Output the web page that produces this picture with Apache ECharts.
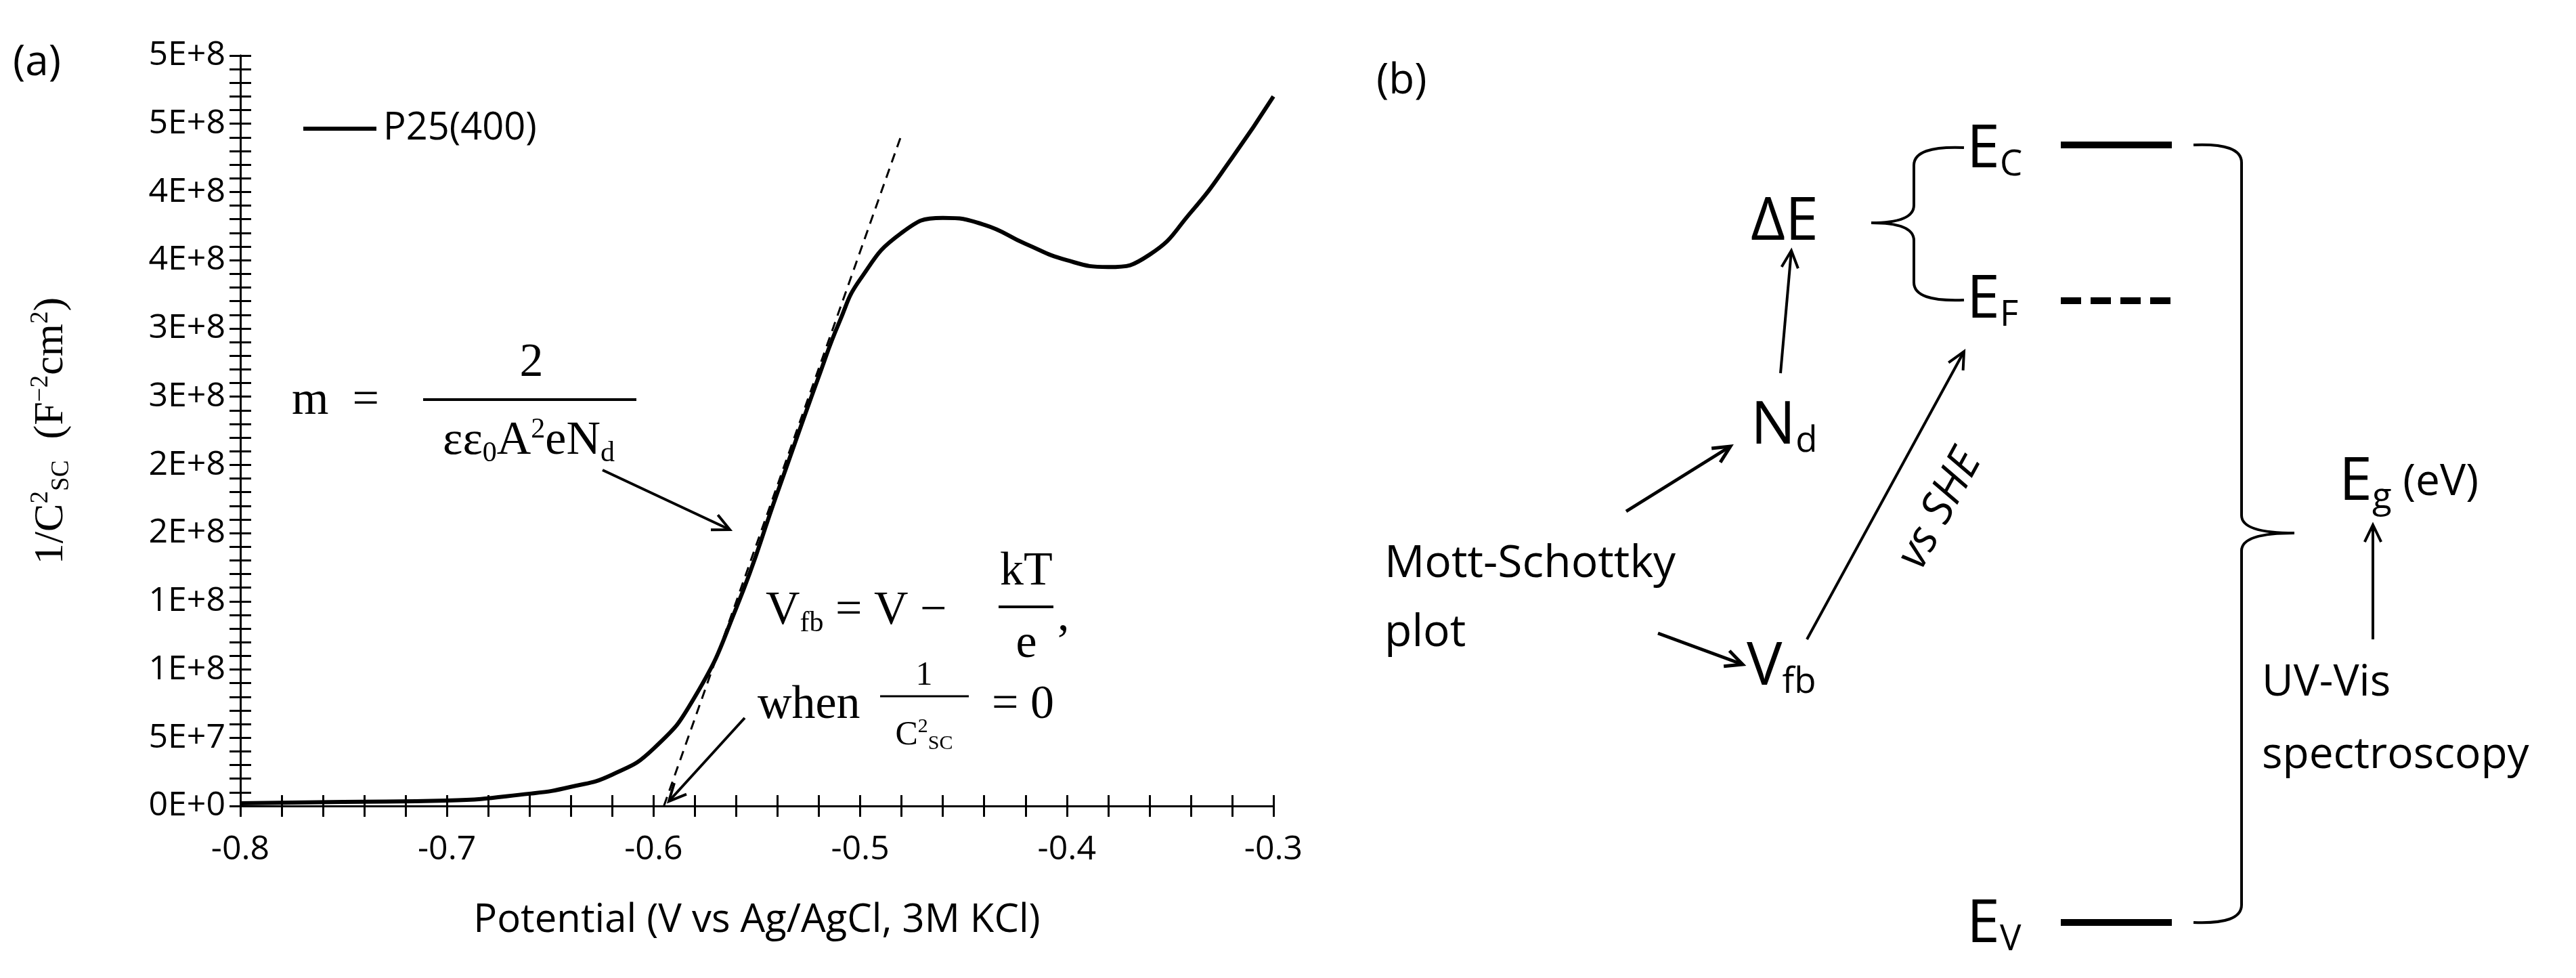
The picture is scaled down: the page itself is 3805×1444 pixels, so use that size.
<!DOCTYPE html>
<html><head><meta charset="utf-8">
<script src="https://cdn.jsdelivr.net/npm/echarts@6/dist/echarts.min.js"></script>
<style>html,body{margin:0;background:#fff}#c{width:3805px;height:1444px}</style>
</head><body><div id="c"></div>
<script>
// Mott-Schottky curve, P25(400)
const potential = [-0.8, -0.75, -0.7, -0.66, -0.64, -0.62, -0.6, -0.58, -0.56, -0.54, -0.52, -0.51, -0.5, -0.48, -0.46, -0.44, -0.42, -0.4, -0.38, -0.36, -0.34, -0.32, -0.3];
const invC2 = [2e6, 3e6, 4e6, 9e6, 1.4e7, 2.3e7, 4.2e7, 8.0e7, 1.45e8, 2.3e8, 3.15e8, 3.55e8, 3.86e8, 4.2e8, 4.31e8, 4.26e8, 4.12e8, 4.0e8, 3.95e8, 4.04e8, 4.35e8, 4.75e8, 5.2e8];
const tangentX = [-0.595, -0.48];
const tangentY = [0, 4.92e8];
const yTickLabels = ['0E+0', '5E+7', '1E+8', '1E+8', '2E+8', '2E+8', '3E+8', '3E+8', '4E+8', '4E+8', '5E+8', '5E+8'];
const seriesName = 'P25(400)';

const sans = 'Open Sans';
const serif = 'Liberation Serif';
const chart = echarts.init(document.getElementById('c'));

const xBase = {
  type: 'value', min: -0.8, max: -0.3, interval: 0.1,
  axisLine: {lineStyle: {color: '#000', width: 3}},
  splitLine: {show: false},
  minorSplitLine: {show: false}
};
const yBase = {
  type: 'value', min: 0, max: 5.5e8, interval: 5e7,
  axisLine: {lineStyle: {color: '#000', width: 3}},
  splitLine: {show: false}
};

function line(x1, y1, x2, y2, w, dash) {
  return {type: 'line', shape: {x1, y1, x2, y2}, style: {stroke: '#000', lineWidth: w || 3, lineDash: dash || null}};
}
function curve(x1, y1, cx, cy, x2, y2) {
  return {type: 'bezierCurve', shape: {x1, y1, x2, y2, cpx1: cx, cpy1: cy}, style: {stroke: '#000', lineWidth: 4, fill: null}};
}
function brace(x0, xs, xt, yTop, yMid, yBot) {
  return [
    curve(x0, yTop, xs, yTop - 3, xs, yTop + 26),
    line(xs, yTop + 26, xs, yMid - 26, 4),
    curve(xs, yMid - 26, xs, yMid, xt, yMid),
    curve(xt, yMid, xs, yMid, xs, yMid + 26),
    line(xs, yMid + 26, xs, yBot - 26, 4),
    curve(xs, yBot - 26, xs, yBot + 3, x0, yBot)
  ];
}
function arrow(x1, y1, x2, y2, w) {
  const a = Math.atan2(y2 - y1, x2 - x1), L = 28, s = 0.45;
  return [line(x1, y1, x2, y2, w || 4),
    {type: 'polyline', shape: {points: [[x2 - L * Math.cos(a - s), y2 - L * Math.sin(a - s)], [x2, y2], [x2 - L * Math.cos(a + s), y2 - L * Math.sin(a + s)]]},
     style: {stroke: '#000', lineWidth: w || 4, fill: null}}];
}
function txt(x, y, text, size, opts) {
  return {type: 'text', x, y, style: Object.assign({text, fontSize: size, fontFamily: sans, fill: '#000', verticalAlign: 'middle'}, opts || {})};
}
const subRich = (size, fam) => ({
  sub: {fontSize: size * 0.6, fontFamily: fam, verticalAlign: 'bottom', padding: [size * 0.5, 0, 0, 0]},
  sup: {fontSize: size * 0.6, fontFamily: fam, padding: [0, 0, size * 0.5, 0]}
});

const g = [];
// panel (a) texts
g.push(txt(19, 93, '(a)', 62));
g.push(line(448, 190, 556, 190, 6));
g.push(txt(566, 190, seriesName, 56));
g.push(txt(431, 593, 'm  =', 70, {fontFamily: serif}));
g.push(txt(785, 537, '2', 70, {fontFamily: serif, align: 'center'}));
g.push(line(625, 590, 940, 590, 4));
g.push(txt(781, 652, '{n|εε}{sub|0}{n|A}{sup|2}{n|eN}{sub|d}', 70, {align: 'center', rich: Object.assign({n: {fontSize: 70, fontFamily: serif}}, subRich(70, serif))}));
g.push(...arrow(890, 694, 1078, 782));
g.push(txt(1131, 903, '{n|V}{sub|fb}{n| = V − }', 70, {rich: Object.assign({n: {fontSize: 70, fontFamily: serif}}, subRich(70, serif))}));
g.push(txt(1516, 845, 'kT', 70, {fontFamily: serif, align: 'center'}));
g.push(line(1475, 896, 1556, 896, 4));
g.push(txt(1516, 952, 'e', 70, {fontFamily: serif, align: 'center'}));
g.push(txt(1562, 912, ',', 70, {fontFamily: serif}));
g.push(txt(1119, 1042, 'when', 70, {fontFamily: serif}));
g.push(txt(1365, 998, '1', 50, {fontFamily: serif, align: 'center'}));
g.push(line(1300, 1028, 1431, 1028, 3));
g.push(txt(1365, 1086, '{n|C}{sup|2}{sub|SC}', 50, {align: 'center', rich: Object.assign({n: {fontSize: 50, fontFamily: serif}}, subRich(50, serif))}));
g.push(txt(1465, 1042, '= 0', 70, {fontFamily: serif}));
g.push(...arrow(1100, 1060, 988, 1183));

// panel (b) diagram
const R = {rich: Object.assign({n: {fontSize: 88, fontFamily: sans}}, subRich(88, sans))};
g.push(txt(2033, 120, '(b)', 62));
g.push(txt(2905, 222, '{n|E}{sub|C}', 88, R));
g.push(txt(2905, 444, '{n|E}{sub|F}', 88, R));
g.push(txt(2905, 1366, '{n|E}{sub|V}', 88, R));
g.push(line(3044, 214, 3208, 214, 10));
g.push(line(3044, 444, 3208, 444, 10, [30, 14]));
g.push(line(3044, 1362, 3208, 1362, 10));
g.push(...brace(3240, 3311, 3389, 214, 787, 1362));
g.push(...brace(2901, 2827, 2764, 218, 329, 443));
g.push(txt(2586, 329, 'ΔE', 88));
g.push(txt(2586, 630, '{n|N}{sub|d}', 88, R));
g.push(txt(2580, 986, '{n|V}{sub|fb}', 88, R));
g.push(txt(2045, 833, 'Mott-Schottky', 66));
g.push(txt(2045, 935, 'plot', 66));
g.push(...arrow(2630, 551, 2646, 370));
g.push(...arrow(2402, 755, 2556, 659, 5));
g.push(...arrow(2449, 935, 2574, 981, 5));
g.push(...arrow(2669, 944, 2901, 519));
g.push({type: 'text', x: 2866, y: 752, rotation: Math.atan2(425, 232), style: {text: 'vs SHE', fontSize: 66, fontFamily: sans, fontStyle: 'italic', fill: '#000', align: 'center', verticalAlign: 'middle'}});
g.push(txt(3455, 713, '{n|E}{sub|g}{m| (eV)}', 88, {rich: Object.assign({n: {fontSize: 88, fontFamily: sans}, m: {fontSize: 64, fontFamily: sans}}, subRich(88, sans))}));
g.push(...arrow(3505, 944, 3505, 775));
g.push(txt(3341, 1009, 'UV-Vis', 64));
g.push(txt(3341, 1116, 'spectroscopy', 64));

chart.setOption({
  animation: false,
  backgroundColor: '#fff',
  grid: {left: 355, right: 1924, top: 82, bottom: 254},
  xAxis: [
    Object.assign({}, xBase, {
      position: 'bottom',
      name: 'Potential (V vs Ag/AgCl, 3M KCl)', nameLocation: 'middle', nameGap: 140,
      nameTextStyle: {fontSize: 58, fontFamily: sans, color: '#000'},
      axisLabel: {fontSize: 50, fontFamily: sans, color: '#000', margin: 40, formatter: v => v.toFixed(1)},
      axisTick: {length: 16, lineStyle: {color: '#000', width: 3}},
      minorTick: {show: true, splitNumber: 5, length: 16, lineStyle: {color: '#000', width: 3}}
    }),
    Object.assign({}, xBase, {
      position: 'bottom', axisLabel: {show: false},
      axisTick: {inside: true, length: 16, lineStyle: {color: '#000', width: 3}},
      minorTick: {show: true, splitNumber: 5, length: 16, lineStyle: {color: '#000', width: 3}}
    })
  ],
  yAxis: [
    Object.assign({}, yBase, {
      name: '{n|1/C}{sup|2}{sub|SC}{n|  (F}{sup|−2}{n|cm}{sup|2}{n|)}',
      nameLocation: 'middle', nameGap: 245, nameRotate: 90,
      nameTextStyle: {color: '#000', rich: Object.assign({n: {fontSize: 62, fontFamily: serif}}, subRich(62, serif))},
      axisLabel: {fontSize: 50, fontFamily: sans, color: '#000', margin: 22,
        formatter: (v) => yTickLabels[Math.round(v / 5e7)]},
      axisTick: {length: 16, lineStyle: {color: '#000', width: 3}},
      minorTick: {show: true, splitNumber: 5, length: 16, lineStyle: {color: '#000', width: 3}}
    }),
    Object.assign({}, yBase, {
      position: 'left', axisLabel: {show: false},
      axisTick: {inside: true, length: 16, lineStyle: {color: '#000', width: 3}},
      minorTick: {show: true, splitNumber: 5, length: 16, lineStyle: {color: '#000', width: 3}}
    })
  ],
  series: [
    {name: seriesName, type: 'line', smooth: 0.5, symbol: 'none',
     lineStyle: {color: '#000', width: 6},
     data: potential.map((x, i) => [x, invC2[i]])},
    {type: 'line', symbol: 'none', lineStyle: {color: '#000', width: 3, type: [14, 10]},
     data: tangentX.map((x, i) => [x, tangentY[i]])}
  ],
  graphic: g
});
</script></body></html>
